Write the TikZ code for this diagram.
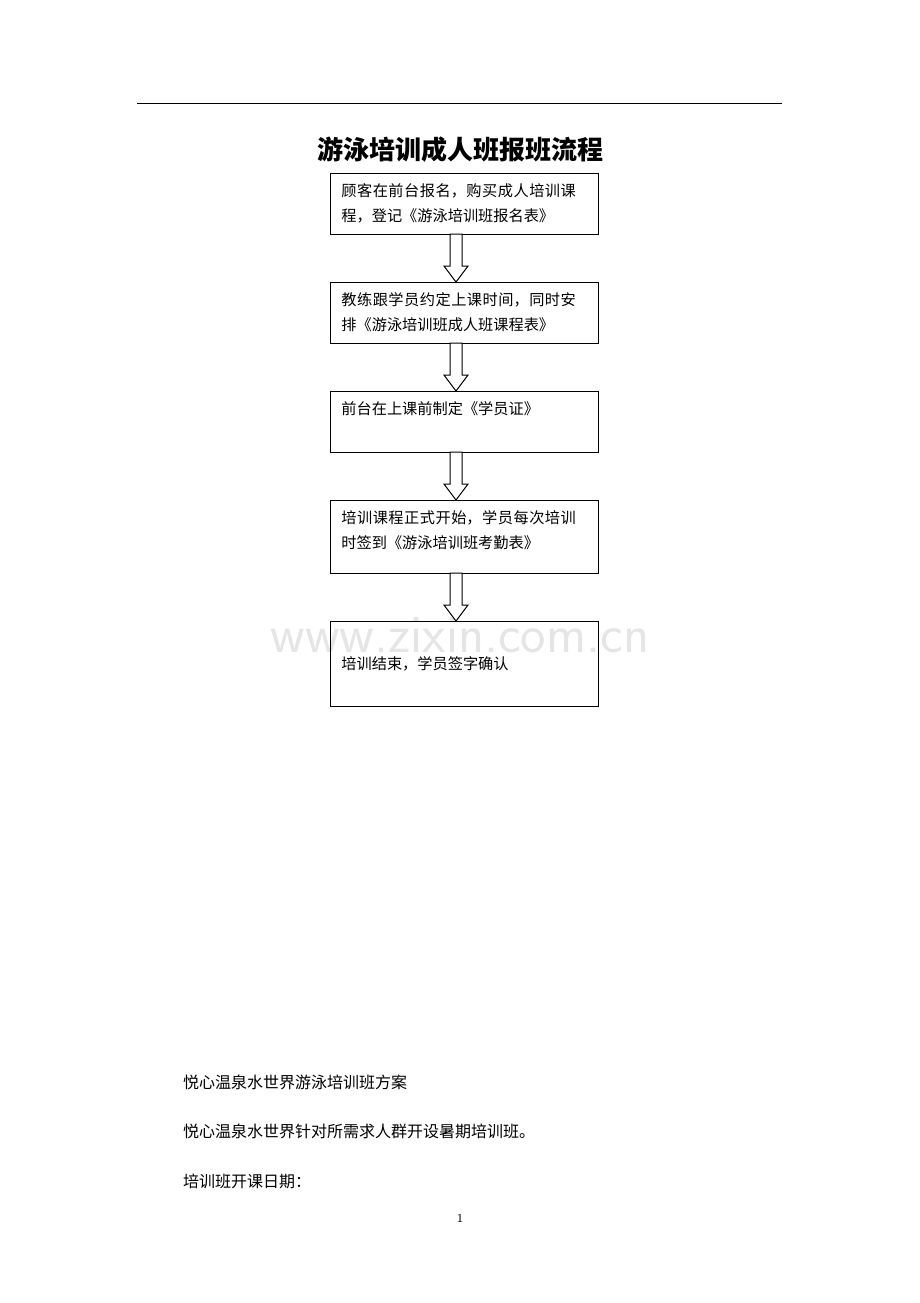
\documentclass[tikz,border=0pt]{standalone}
\usepackage{fontspec}
\newfontfamily\cjk{Noto Sans CJK SC}
\XeTeXlinebreaklocale "zh"
\XeTeXlinebreakskip=0pt plus 1pt
\begin{document}
\begin{tikzpicture}[x=0.5pt,y=-0.5pt,
  txt/.style={anchor=north west,align=left,font=\cjk\fontsize{7.6}{12.5}\selectfont,text width=121pt,inner sep=0pt},
  body/.style={anchor=west,font=\cjk\fontsize{8}{10}\selectfont}]
\useasboundingbox (0,0) rectangle (920,1303);
\draw[line width=0.5pt] (137,103) -- (782,103);
\node[font=\cjk\bfseries\fontsize{13}{15}\selectfont] (title) at (460,150) {游泳培训成人班报班流程};
\node[font=\sffamily\fontsize{27}{30}\selectfont,text=black!10] (wm) at (460,635) {www.zixin.com.cn};
\foreach \n/\a/\b/\o/\t in {1/173/234/10/{顾客在前台报名，购买成人培训课程，登记《游泳培训班报名表》},
  2/282/343/10/{教练跟学员约定上课时间，同时安排《游泳培训班成人班课程表》},
  3/391/452/10/{前台在上课前制定《学员证》},
  4/500/573/10/{培训课程正式开始，学员每次培训时签到《游泳培训班考勤表》},
  5/621/706/35/{培训结束，学员签字确认}}{
  \draw[line width=0.5pt] (330,\a) rectangle (598,\b);
  \coordinate (b\n t) at (456,\a); \coordinate (b\n b) at (456,\b);
  \node[txt] (t\n) at (341,\a+\o) {\t};
}
\foreach \u/\v in {1/2,2/3,3/4,4/5}{
  \draw[line width=0.5pt,fill=white] ([xshift=-3pt]b\u b) -- ([xshift=3pt]b\u b) -- ([xshift=3pt,yshift=8pt]b\v t)
   -- ([xshift=6pt,yshift=8pt]b\v t) -- (b\v t) -- ([xshift=-6pt,yshift=8pt]b\v t) -- ([xshift=-3pt,yshift=8pt]b\v t) -- cycle;
}
\node[body] (p1) at (176,1082) {悦心温泉水世界游泳培训班方案};
\node[body] (p2) at (176,1131) {悦心温泉水世界针对所需求人群开设暑期培训班。};
\node[body] (p3) at (176,1181) {培训班开课日期：};
\node[font=\fontsize{6}{7}\selectfont] (pg) at (460,1218) {1};
\end{tikzpicture}
\end{document}
